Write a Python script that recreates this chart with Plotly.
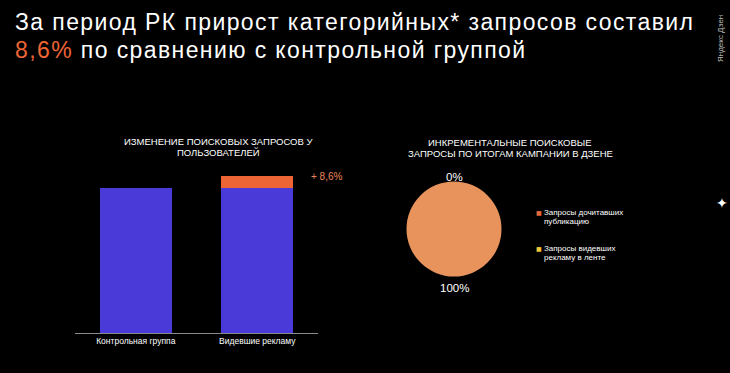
import plotly.graph_objects as go

W, H = 730, 373
def px(x): return x / W
def py(y): return 1 - y / H

# ---- data ----
bar_categories = ["Контрольная группа", "Видевшие рекламу"]
base_values = [100, 100]
increment_values = [0, 8.6]
increment_label = "+ 8,6%"

pie_labels = ["Запросы дочитавших публикацию", "Запросы видевших рекламу в ленте"]
legend_lines = [["Запросы дочитавших", "публикацию"], ["Запросы видевших", "рекламу в ленте"]]
pie_values = [100, 0]

BLUE = "#4A3BD8"
ORANGE = "#EE6535"
LABEL_ORANGE = "#EC8558"
PIE_ORANGE = "#E9935C"
LEG_COLORS = ["#E8673A", "#F0C53A"]
PIE_YELLOW = "#F0C53A"
FONT = "Liberation Sans, Arial, sans-serif"

fig = go.Figure()
fig.add_trace(go.Bar(x=bar_categories, y=base_values, marker_color=BLUE,
                     marker_line_width=0, showlegend=False, hoverinfo="skip"))
fig.add_trace(go.Bar(x=bar_categories, y=increment_values, marker_color=ORANGE,
                     marker_line_width=0, showlegend=False, hoverinfo="skip"))

fig.add_trace(go.Pie(labels=pie_labels, values=pie_values, sort=False,
                     direction="clockwise", rotation=0, showlegend=False,
                     marker=dict(colors=[PIE_ORANGE, PIE_YELLOW], line=dict(width=0)),
                     textinfo="none", hoverinfo="skip",
                     domain=dict(x=[px(406.5), px(501.5)], y=[py(276.5), py(181.5)])))

total = sum(pie_values)
pct = [f"{round(v / total * 100)}%" for v in pie_values]

fig.update_layout(
    width=W, height=H,
    margin=dict(l=0, r=0, t=0, b=0),
    paper_bgcolor="black", plot_bgcolor="black",
    barmode="stack", bargap=0.41,
    font=dict(family=FONT, color="white"),
    xaxis=dict(domain=[px(75), px(318)], range=[-0.5, 1.5], showgrid=False, zeroline=False,
               showline=True, linecolor="#8a8a8a", linewidth=1,
               ticks="", tickfont=dict(size=8.5, color="white"), anchor="y"),
    yaxis=dict(domain=[py(333), py(166.25)], range=[0, 115], visible=False,
               showgrid=False, zeroline=False),
    showlegend=False,
)

LS = "letter-spacing:1.4px"
ann = [
    dict(x=px(13), y=py(21.5), xanchor="left", yanchor="middle",
         text=f"<span style='{LS}'>За период РК прирост категорийных* запросов составил</span>",
         font=dict(size=23, color="white", family=FONT)),
    dict(x=px(13), y=py(50.5), xanchor="left", yanchor="middle",
         text=f"<span style='color:{ORANGE};{LS}'>8,6%</span>"
              f"<span style='{LS}'> по сравнению с контрольной группой</span>",
         font=dict(size=23, color="white", family=FONT)),
    dict(x=px(218), y=py(141.5), xanchor="center", yanchor="middle",
         text="ИЗМЕНЕНИЕ ПОИСКОВЫХ ЗАПРОСОВ У", font=dict(size=9.5, color="white", family=FONT)),
    dict(x=px(218), y=py(152), xanchor="center", yanchor="middle",
         text="ПОЛЬЗОВАТЕЛЕЙ", font=dict(size=9.5, color="white", family=FONT)),
    dict(x=px(510), y=py(142.5), xanchor="center", yanchor="middle",
         text="ИНКРЕМЕНТАЛЬНЫЕ ПОИСКОВЫЕ", font=dict(size=9.5, color="white", family=FONT)),
    dict(x=px(510), y=py(153), xanchor="center", yanchor="middle",
         text="ЗАПРОСЫ ПО ИТОГАМ КАМПАНИИ В ДЗЕНЕ", font=dict(size=9.5, color="white", family=FONT)),
    dict(x=px(454), y=py(176.5), xanchor="center", yanchor="middle",
         text=pct[1], font=dict(size=11.5, color="white", family=FONT)),
    dict(x=px(454), y=py(288), xanchor="center", yanchor="middle",
         text=pct[0], font=dict(size=11.5, color="white", family=FONT)),
    dict(x=px(721), y=py(39), xanchor="center", yanchor="middle",
         text="Яндекс Дзен", textangle=-90,
         font=dict(size=8, color="#bbbbbb", family=FONT)),
    dict(x=px(722), y=py(203), xanchor="center", yanchor="middle",
         text="✦", font=dict(size=14, color="white", family="DejaVu Sans")),
]
for a in ann:
    a.update(xref="paper", yref="paper", showarrow=False)

# value label above stacked bar
ann.append(dict(x=bar_categories[1], y=base_values[1] + increment_values[1], xref="x", yref="y",
                xanchor="center", yanchor="middle", xshift=70, yshift=-1, showarrow=False,
                text=increment_label, font=dict(size=10, color=LABEL_ORANGE, family=FONT)))

# custom legend
leg_y = [212, 248]
for i, lines in enumerate(legend_lines):
    ann.append(dict(x=px(538.5), y=py(leg_y[i]), xref="paper", yref="paper", showarrow=False,
                    xanchor="center", yanchor="middle", text="■",
                    font=dict(size=6, color=LEG_COLORS[i], family="DejaVu Sans")))
    for j, line in enumerate(lines):
        ann.append(dict(x=px(541.5), y=py(leg_y[i] + j * 9.5), xref="paper", yref="paper",
                        showarrow=False, xanchor="left", yanchor="middle", text=line,
                        font=dict(size=8, color="white", family=FONT)))

fig.update_layout(annotations=ann)

fig.write_html("out.html", config={"displayModeBar": False, "staticPlot": True},
               post_script="document.body.style.margin='0';document.body.style.overflow='hidden';")
